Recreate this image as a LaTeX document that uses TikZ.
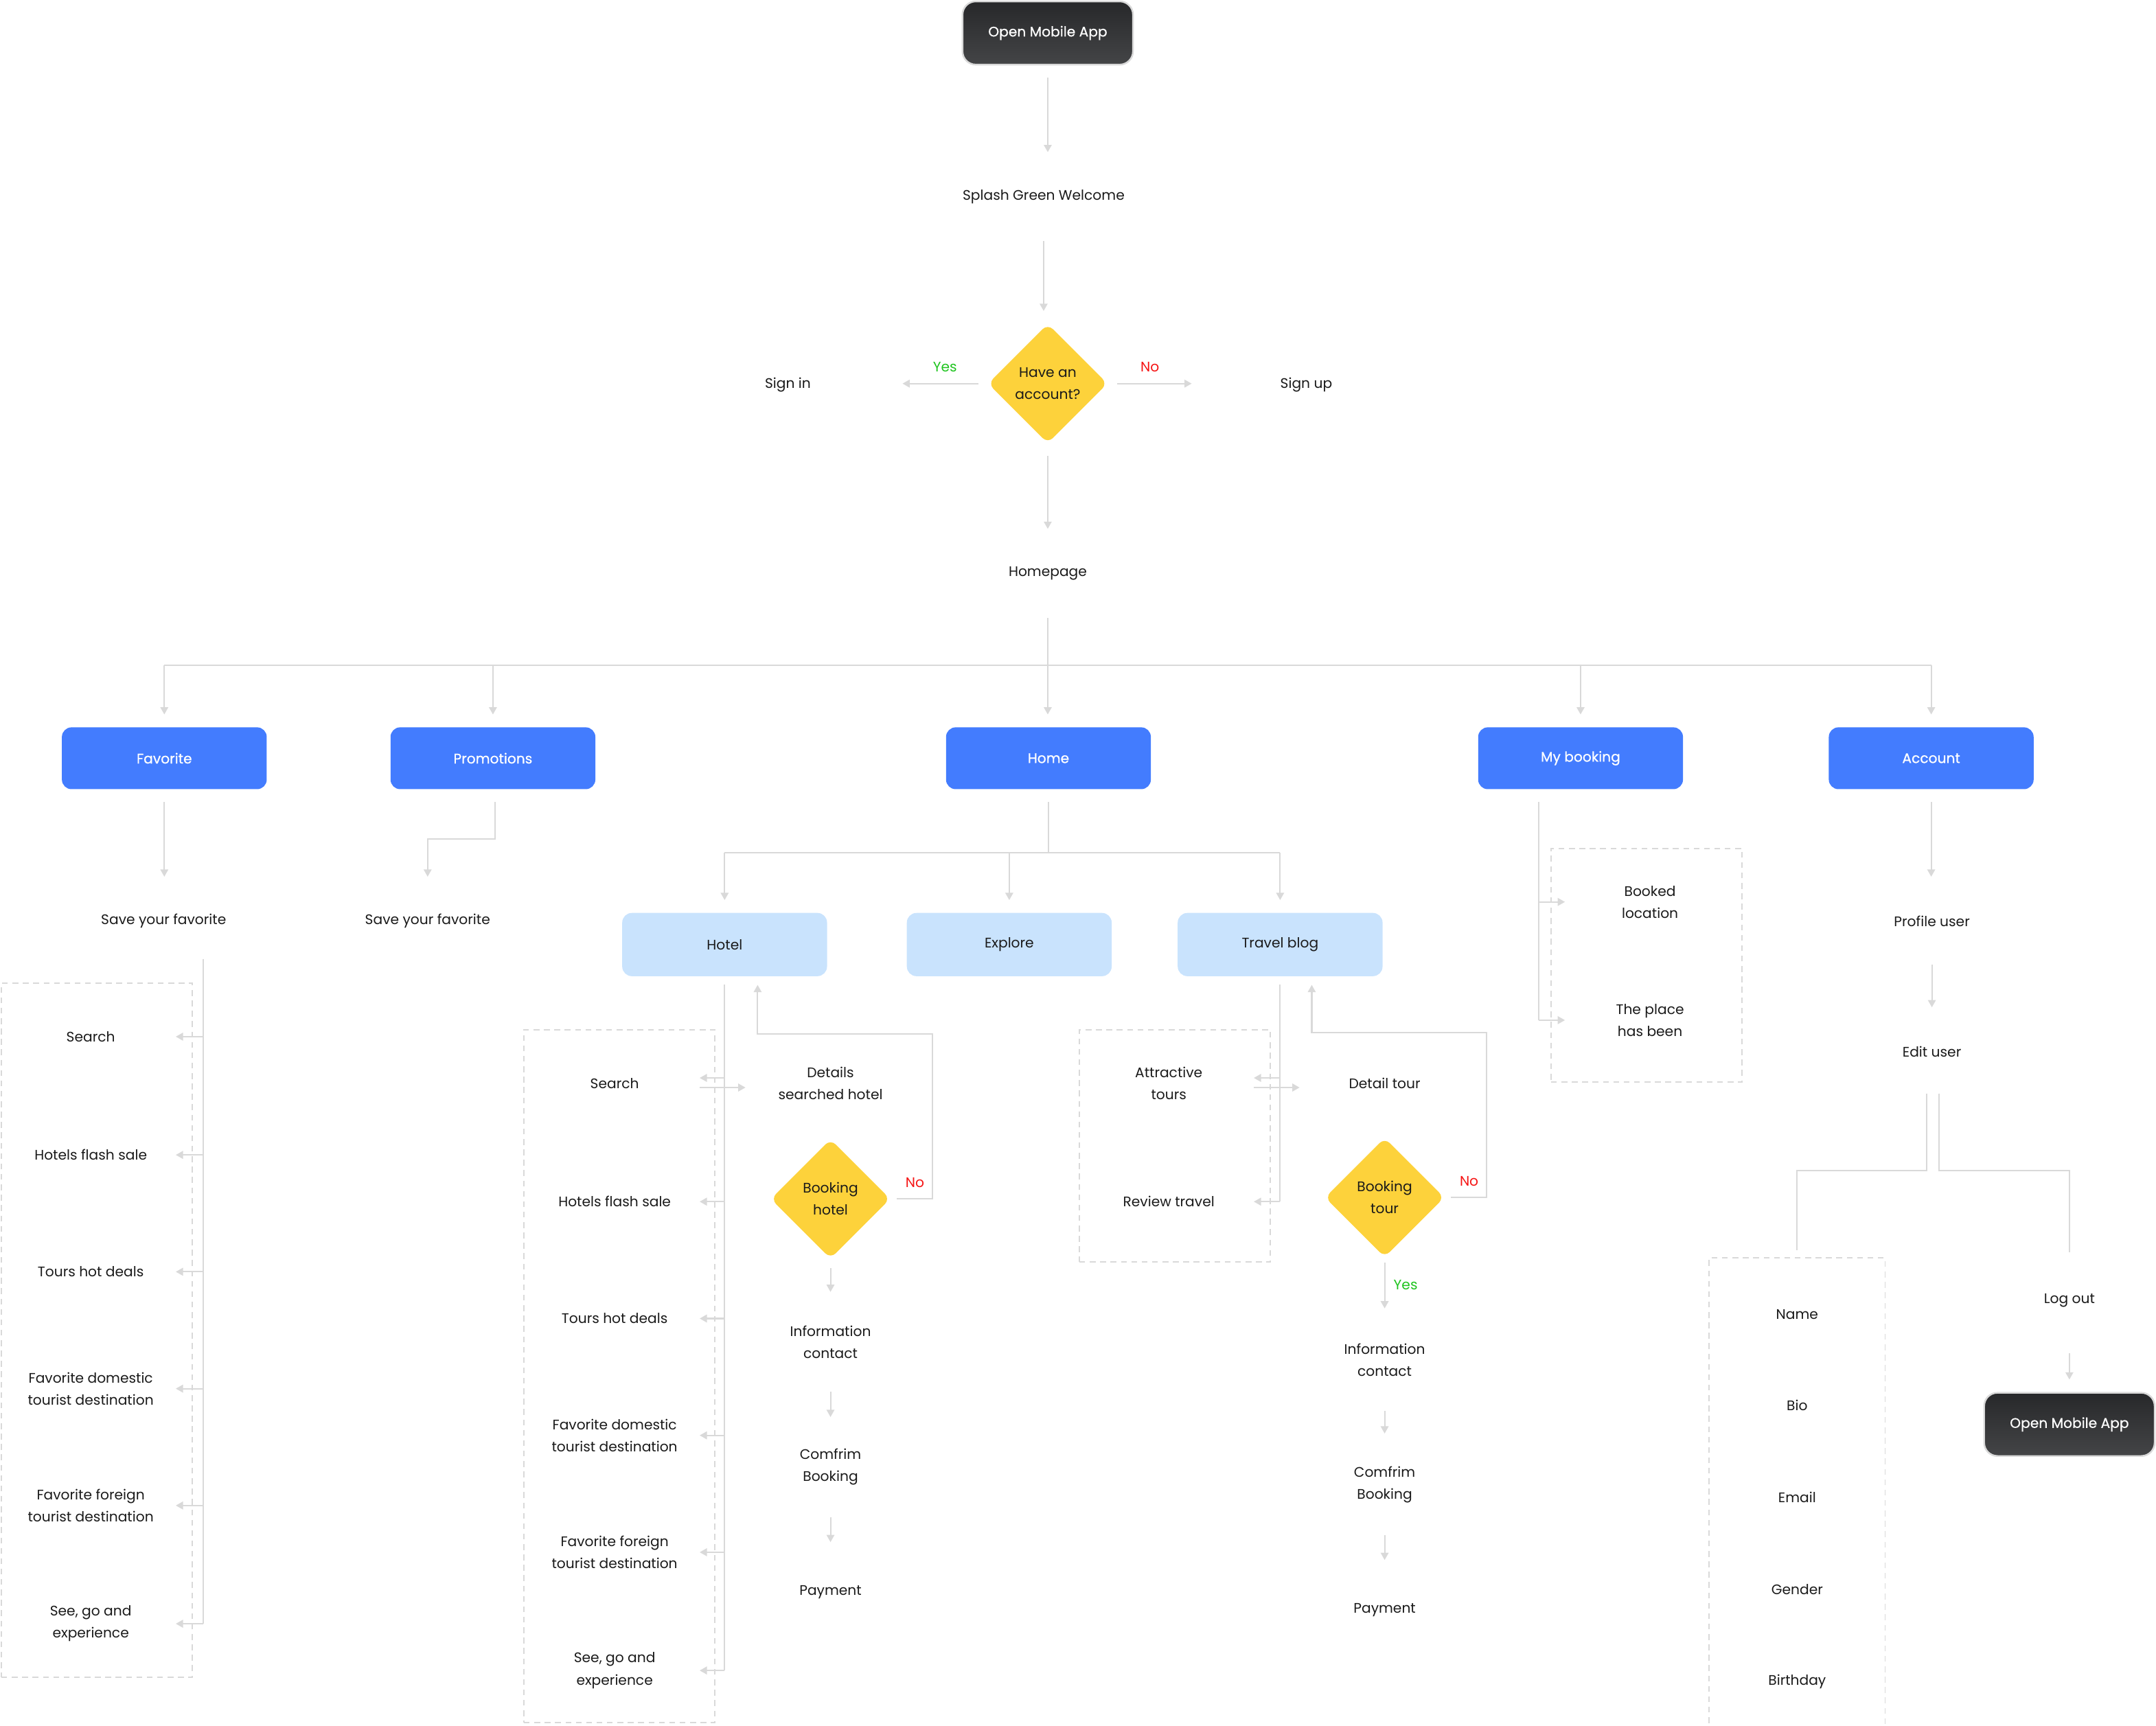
\documentclass[tikz,border=0pt]{standalone}
\usepackage{fontspec}
\setmainfont{Poppins}
\newfontfamily\heavier{Poppins}[FakeBold=0.6]
\usetikzlibrary{arrows.meta,shapes.geometric,calc}
\definecolor{lineg}{HTML}{D9D9D9}
\definecolor{ink}{HTML}{1A1A1A}
\definecolor{brand}{HTML}{437CFE}
\definecolor{soft}{HTML}{C9E3FD}
\definecolor{gold}{HTML}{FDD23B}
\definecolor{yesg}{HTML}{1FC41F}
\definecolor{nor}{HTML}{F51414}
\definecolor{nightA}{HTML}{27282A}
\definecolor{nightB}{HTML}{444547}
\begin{document}
\begin{tikzpicture}[x=0.02cm,y=-0.02cm,
  every node/.style={font=\fontsize{5.75}{9.1}\selectfont, text=ink, inner sep=0pt, align=center},
  lbl/.style={minimum height=1.24cm},
  item/.style={minimum height=1.24cm, minimum width=2.46cm},
  appbox/.style={rectangle, rounded corners=5.5pt, top color=nightA, bottom color=nightB,
    draw=lineg, line width=0.7pt, minimum width=2.48cm, minimum height=0.92cm, text=white,
    font=\heavier\fontsize{5.75}{9.1}\selectfont},
  mainbox/.style={rectangle, rounded corners=4pt, fill=brand, minimum width=2.98cm,
    minimum height=0.9cm, text=white, font=\heavier\fontsize{5.75}{9.1}\selectfont},
  subbox/.style={rectangle, rounded corners=4pt, fill=soft, minimum width=2.98cm,
    minimum height=0.92cm},
  choice/.style={diamond, aspect=1, fill=gold, rounded corners=3pt,
    minimum width=1.74cm, minimum height=1.74cm},
  group/.style={rectangle, draw=lineg, line width=0.55pt, dash pattern=on 2.4pt off 1.9pt},
  link/.style={draw=lineg, line width=0.6pt},
  arr/.style={link, -{Triangle[length=3pt,width=3.2pt]}},
  yes/.style={text=yesg},
  no/.style={text=nor},
]
\useasboundingbox (0,0) rectangle (1568,1255);

% ---------- entry ----------
\node[appbox] (start) at (762,24) {Open Mobile App};
\node[lbl] (splash) at (759,143) {Splash Green Welcome};
\node[choice] (have) at (762,279) {Have an\\account?};
\node[lbl, minimum width=3.32cm] (signin) at (573,280) {Sign in};
\node[lbl, minimum width=3.32cm] (signup) at (950,280) {Sign up};
\node[lbl] (homepage) at (762,417) {Homepage};

% ---------- main tabs ----------
\node[mainbox] (fav) at (119.5,551.5) {Favorite};
\node[mainbox] (promo) at (358.5,551.5) {Promotions};
\node[mainbox] (home) at (762.5,551.5) {Home};
\node[mainbox] (mybook) at (1149.5,551.5) {My booking};
\node[mainbox] (account) at (1404.5,551.5) {Account};

\node[lbl] (favsave) at (119,670) {Save your favorite};
\node[lbl] (promosave) at (311,670) {Save your favorite};

\node[subbox] (hotel) at (527,687) {Hotel};
\node[subbox] (explore) at (734,687) {Explore};
\node[subbox] (travel) at (931,687) {Travel blog};

% ---------- groups ----------
\node[group, minimum width=2.78cm, minimum height=10.1cm] (favgroup) at (70.5,967.5) {};
\node[group, minimum width=2.78cm, minimum height=10.08cm] (hotgroup) at (450.5,1001) {};
\node[group, minimum width=2.78cm, minimum height=3.38cm] (tourgroup) at (854.5,833.5) {};
\node[group, minimum width=2.78cm, minimum height=3.4cm] (bookgroup) at (1197.5,702) {};
\node[group, minimum width=2.56cm, minimum height=6.94cm] (accgroup) at (1307,1088.5) {};

% favorite list
\node[item] (fsearch) at (66,754) {Search};
\node[item] (fflash) at (66,840) {Hotels flash sale};
\node[item] (fdeals) at (66,925) {Tours hot deals};
\node[item] (fdom) at (66,1010) {Favorite domestic\\tourist destination};
\node[item] (fforeign) at (66,1095) {Favorite foreign\\tourist destination};
\node[item] (fsee) at (66,1181) {See, go and\\experience};

% hotel list
\node[item] (hsearch) at (447,788) {Search};
\node[item] (hflash) at (447,874) {Hotels flash sale};
\node[item] (hdeals) at (447,959) {Tours hot deals};
\node[item] (hdom) at (447,1044) {Favorite domestic\\tourist destination};
\node[item] (hforeign) at (447,1129) {Favorite foreign\\tourist destination};
\node[item] (hsee) at (447,1215) {See, go and\\experience};

% hotel booking flow
\node[item] (hdetail) at (604,788) {Details\\searched hotel};
\node[choice] (bhotel) at (604,872) {Booking\\hotel};
\node[lbl] (hinfo) at (604,976) {Information\\contact};
\node[lbl] (hconf) at (604,1067) {Comfrim\\Booking};
\node[lbl] (hpay) at (604,1158) {Payment};

% travel blog
\node[item] (tattr) at (850,788) {Attractive\\tours};
\node[item] (treview) at (850,874) {Review travel};
\node[item] (tdetail) at (1007,788) {Detail tour};
\node[choice] (btour) at (1007,871) {Booking\\tour};
\node[lbl] (tinfo) at (1007,989) {Information\\contact};
\node[lbl] (tconf) at (1007,1080) {Comfrim\\Booking};
\node[lbl] (tpay) at (1007,1171) {Payment};

% my booking
\node[item] (blocation) at (1200,656) {Booked\\location};
\node[item] (bplace) at (1200,742) {The place\\has been};

% account
\node[lbl] (profile) at (1405,670) {Profile user};
\node[lbl] (edit) at (1405,765) {Edit user};
\node[lbl] (pname) at (1307,956) {Name};
\node[lbl] (pbio) at (1307,1022) {Bio};
\node[lbl] (pmail) at (1307,1089) {Email};
\node[lbl] (pgender) at (1307,1156) {Gender};
\node[lbl] (pbirth) at (1307,1223) {Birthday};
\node[lbl] (logout) at (1505,946) {Log out};
\node[appbox] (finish) at (1505,1036) {Open Mobile App};

% ---------- connectors: entry ----------
\draw[arr, shorten <=0.18cm, shorten >=0.02cm] (start.south) -- (start.south |- splash.north);
\draw[arr, shorten <=0.02cm, shorten >=0.18cm] (splash.south) -- (splash.south |- have.north);
\draw[arr, shorten <=0.13cm] (have.west) -- node[yes, above=0.16cm]{Yes} (have.west -| signin.east);
\draw[arr, shorten <=0.13cm] (have.east) -- node[no, above=0.16cm]{No} (have.east -| signup.west);
\draw[arr, shorten <=0.17cm, shorten >=0.02cm] (have.south) -- (have.south |- homepage.north);

% homepage bus
\coordinate (bus) at (762,484);
\draw[arr, shorten <=0.02cm, shorten >=0.18cm] (homepage.south) -- (homepage.south |- home.north);
\draw[link] (fav.north |- bus) -- (account.north |- bus);
\foreach \t in {fav,promo,mybook,account}
  \draw[arr, shorten >=0.18cm] (\t.north |- bus) -- (\t.north);

% favorite
\draw[arr, shorten <=0.18cm, shorten >=0.02cm] (fav.south) -- (fav.south |- favsave.north);
\coordinate (favspine) at ([xshift=0.58cm]favsave.south);
\draw[link] ([yshift=0.08cm]favspine) -- (favspine |- fsee.east);
\foreach \t in {fsearch,fflash,fdeals,fdom,fforeign,fsee}
  \draw[arr] (favspine |- \t.east) -- (\t.east);

% promotions
\draw[arr, shorten <=0.18cm, shorten >=0.02cm] ([xshift=0.03cm]promo.south) -- ++(0,36) -| (promosave.north);

% home hub
\coordinate (hub) at (762,620);
\draw[link, shorten <=0.18cm] (home.south) -- (home.south |- hub);
\draw[link] (hotel.north |- hub) -- (travel.north |- hub);
\foreach \t in {hotel,explore,travel}
  \draw[arr, shorten >=0.18cm] (\t.north |- hub) -- (\t.north);

% hotel list
\draw[link, shorten <=0.11cm] (hotel.south) -- (hotel.south |- hsee.east);
\foreach \t in {hflash,hdeals,hdom,hforeign,hsee}
  \draw[arr] (hotel.south |- \t.east) -- (\t.east);
\draw[arr] ($(hotel.south |- hsearch.east)+(0,-4)$) -- ($(hsearch.east)+(0,-4)$);
\draw[arr] ($(hsearch.east)+(0,3)$) -- ($(hdetail.west |- hsearch.east)+(0,3)$);

% hotel booking
\coordinate (hback) at (678,752);
\draw[arr, shorten <=0.09cm, shorten >=0.12cm] (bhotel.east) -- node[no, above=0.16cm, xshift=0.05cm]{No} (bhotel.east -| hback)
  -- (hback) -| ([xshift=0.48cm]hotel.south);
\draw[arr, shorten <=0.13cm, shorten >=0.1cm] (bhotel.south) -- (hinfo.north);
\draw[arr, shorten <=0.1cm, shorten >=0.1cm] (hinfo.south) -- (hconf.north);
\draw[arr, shorten <=0.1cm, shorten >=0.1cm] (hconf.south) -- (hpay.north);

% travel blog
\draw[link, shorten <=0.11cm] (travel.south) -- (travel.south |- treview.east);
\draw[arr] ($(travel.south |- tattr.east)+(0,-4)$) -- ($(tattr.east)+(0,-4)$);
\draw[arr] ($(tattr.east)+(0,3)$) -- ($(tdetail.west |- tattr.east)+(0,3)$);
\draw[arr] (travel.south |- treview.east) -- (treview.east);

\coordinate (tback) at (1081,751);
\draw[arr, shorten <=0.09cm, shorten >=0.12cm] (btour.east) -- node[no, above=0.16cm, xshift=0.05cm]{No} (btour.east -| tback)
  -- (tback) -| ([xshift=0.46cm]travel.south);
\draw[arr, shorten <=0.07cm, shorten >=0.12cm] (btour.south) -- node[yes, right=0.12cm, yshift=0.03cm]{Yes} (tinfo.north);
\draw[arr, shorten <=0.12cm, shorten >=0.12cm] (tinfo.south) -- (tconf.north);
\draw[arr, shorten <=0.1cm, shorten >=0.1cm] (tconf.south) -- (tpay.north);

% my booking
\coordinate (bspine) at ([xshift=-0.61cm]mybook.south);
\draw[link, shorten <=0.18cm] (bspine) -- (bspine |- bplace.west);
\foreach \t in {blocation,bplace}
  \draw[arr] (bspine |- \t.west) -- (\t.west);

% account
\draw[arr, shorten <=0.18cm, shorten >=0.02cm] (account.south) -- (account.south |- profile.north);
\draw[arr, shorten >=0.02cm] (profile.south) -- (edit.north);
\draw[link] ([xshift=-0.08cm,yshift=0.02cm]edit.south) -- ++(0,56) -| ([yshift=0.1cm]accgroup.north);
\draw[link, shorten >=0.08cm] ([xshift=0.1cm,yshift=0.02cm]edit.south) -- ++(0,56) -| (logout.north);
\draw[arr, shorten <=0.14cm, shorten >=0.18cm] (logout.south) -- (finish.north);
\end{tikzpicture}
\end{document}
